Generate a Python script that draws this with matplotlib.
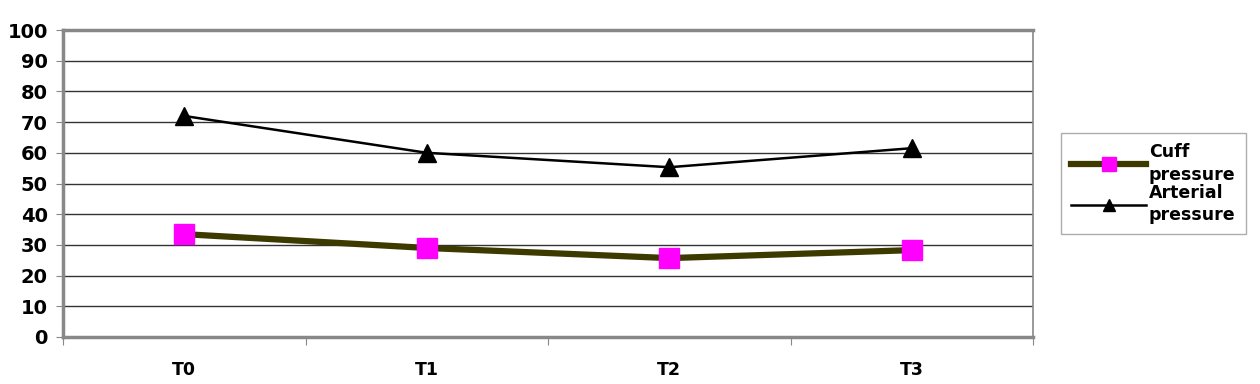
import matplotlib
matplotlib.use("Agg")
import matplotlib.pyplot as plt

# chart data
times = ["T0", "T1", "T2", "T3"]
cuff_pressure = [33.5, 29, 25.7, 28.3]
arterial_pressure = [72, 60, 55.3, 61.5]
y_ticks = list(range(0, 101, 10))

plt.rcParams['font.family'] = ['DejaVu Sans']

fig = plt.figure(figsize=(12.6, 3.84), dpi=100)
ax = fig.add_axes([63 / 1260, 1 - 337 / 384, 970 / 1260, 307 / 384])

x = [i + 0.5 for i in range(len(times))]

ax.plot(x, cuff_pressure, color='#3d3a00', lw=4.5, marker='s', ms=15,
        mfc='#ff00ff', mec='#ff00ff', label='Cuff\npressure', zorder=3)
ax.plot(x, arterial_pressure, color='black', lw=1.8, marker='^', ms=13,
        mfc='black', mec='black', label='Arterial\npressure', zorder=3)

ax.set_xlim(0, len(times))
ax.set_ylim(0, 100)
ax.set_yticks(y_ticks)
ax.set_yticklabels([str(v) for v in y_ticks], fontsize=14, fontweight='bold')
ax.set_xticks(range(len(times) + 1))
ax.set_xticklabels([])
ax.set_xticks(x, minor=True)
ax.set_xticklabels(times, minor=True, fontsize=12.5, fontweight='bold')
ax.tick_params(axis='x', which='minor', length=0, pad=17)
ax.tick_params(axis='x', which='major', length=6, color='#888888')
ax.tick_params(axis='y', length=5, color='#888888', pad=6)

# grid
ax.grid(axis='y', color='#333333', lw=1.0)
ax.set_axisbelow(True)

for side in ['left', 'bottom', 'top']:
    ax.spines[side].set_color('#888888')
    ax.spines[side].set_linewidth(2.5)
ax.spines['right'].set_color('#888888')
ax.spines['right'].set_linewidth(1.2)

leg = fig.legend(loc='upper left', bbox_to_anchor=(1061 / 1260, 1 - 133 / 384),
                 borderaxespad=0, frameon=True, fancybox=False,
                 prop={'weight': 'bold', 'size': 12.5},
                 handlelength=4.3, handletextpad=0.15, borderpad=0.6,
                 labelspacing=0.0, markerscale=0.65)
for t in leg.get_texts():
    t.set_linespacing(1.3)
leg.get_frame().set_edgecolor('#999999')
leg.get_frame().set_linewidth(1)

fig.savefig('out.png', dpi=100)
